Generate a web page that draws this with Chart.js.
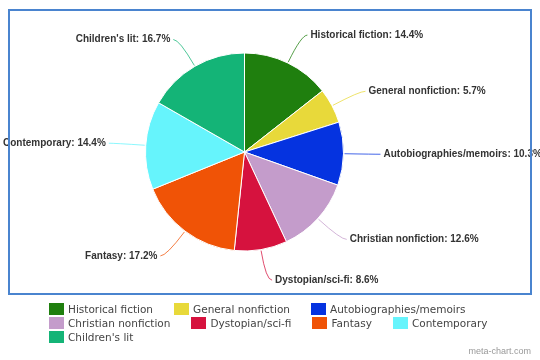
<!DOCTYPE html>
<html>
<head>
<meta charset="utf-8">
<script src="https://cdn.jsdelivr.net/npm/chart.js@4.4.1/dist/chart.umd.min.js"></script>
<style>
  html, body { margin: 0; padding: 0; background: #fff; }
  #wrap { position: relative; width: 540px; height: 360px; overflow: hidden; }
  #c { position: absolute; left: 0; top: 0; }
  #box { position: absolute; left: 8px; top: 9px; width: 520px; height: 282px; border: 2px solid #4a84cf; pointer-events: none; }
  #legend { position: absolute; left: 49px; top: 302px; width: 472px; display: flex; flex-wrap: wrap;
    font-family: "DejaVu Sans", Verdana, sans-serif; font-size: 10.5px; color: #444; line-height: 14px; }
  .item { display: flex; align-items: center; margin-right: 21px; height: 14px; }
  .sw { width: 15px; height: 12px; margin-right: 4px; }
  #wm { position: absolute; right: 9px; top: 346px; font-family: "Liberation Sans", Arial, sans-serif; font-size: 9px; color: #999; }
</style>
</head>
<body>
<div id="wrap">
  <canvas id="c" width="540" height="360"></canvas>
  <div id="box"></div>
  <div id="legend"></div>
  <div id="wm">meta-chart.com</div>
</div>
<script>
const categories = ["Historical fiction", "General nonfiction", "Autobiographies/memoirs", "Christian nonfiction", "Dystopian/sci-fi", "Fantasy", "Contemporary", "Children's lit"];
const percentages = [14.4, 5.7, 10.3, 12.6, 8.6, 17.2, 14.4, 16.7];
const colors = ["#1f7f0e", "#e8d93a", "#0533e0", "#c49ccb", "#d6123e", "#f05306", "#66f4fc", "#14b477"];

// HTML legend
const lg = document.getElementById('legend');
categories.forEach((c, i) => {
  const it = document.createElement('div');
  it.className = 'item';
  const sw = document.createElement('div');
  sw.className = 'sw';
  sw.style.background = colors[i];
  const tx = document.createElement('span');
  tx.textContent = c;
  it.appendChild(sw); it.appendChild(tx);
  lg.appendChild(it);
});

const outsideLabels = {
  id: 'outsideLabels',
  afterDatasetsDraw(chart) {
    const ctx = chart.ctx;
    const meta = chart.getDatasetMeta(0);
    ctx.save();
    ctx.font = 'bold 10px "Liberation Sans", Arial, sans-serif';
    ctx.textBaseline = 'middle';
    meta.data.forEach((arc, i) => {
      const p = arc.getProps(['x', 'y', 'startAngle', 'endAngle', 'outerRadius'], true);
      const mid = (p.startAngle + p.endAngle) / 2;
      const cos = Math.cos(mid), sin = Math.sin(mid);
      const r0 = p.outerRadius + 1;
      const r1 = p.outerRadius + 31;
      const x0 = p.x + cos * r0, y0 = p.y + sin * r0;
      const xc = p.x + cos * r1, yc = p.y + sin * r1;
      const right = cos >= 0;
      const x2 = xc + (right ? 6 : -6);
      ctx.strokeStyle = colors[i];
      ctx.globalAlpha = 0.75;
      ctx.lineWidth = 1;
      ctx.beginPath();
      ctx.moveTo(x0, y0);
      ctx.quadraticCurveTo(xc, yc, x2, yc);
      ctx.stroke();
      ctx.globalAlpha = 1;
      ctx.fillStyle = '#333';
      ctx.textAlign = right ? 'left' : 'right';
      ctx.fillText(categories[i] + ': ' + percentages[i].toFixed(1) + '%', x2 + (right ? 3 : -3), yc);
    });
    ctx.restore();
  }
};

new Chart(document.getElementById('c'), {
  type: 'pie',
  data: {
    labels: categories,
    datasets: [{
      data: percentages,
      backgroundColor: colors,
      borderColor: '#ffffff',
      borderWidth: 1,
      radius: 99
    }]
  },
  options: {
    responsive: false,
    animation: false,
    events: [],
    layout: { padding: { left: 140, right: 191, top: 47, bottom: 103 } },
    plugins: { legend: { display: false }, tooltip: { enabled: false } }
  },
  plugins: [outsideLabels]
});
</script>
</body>
</html>
